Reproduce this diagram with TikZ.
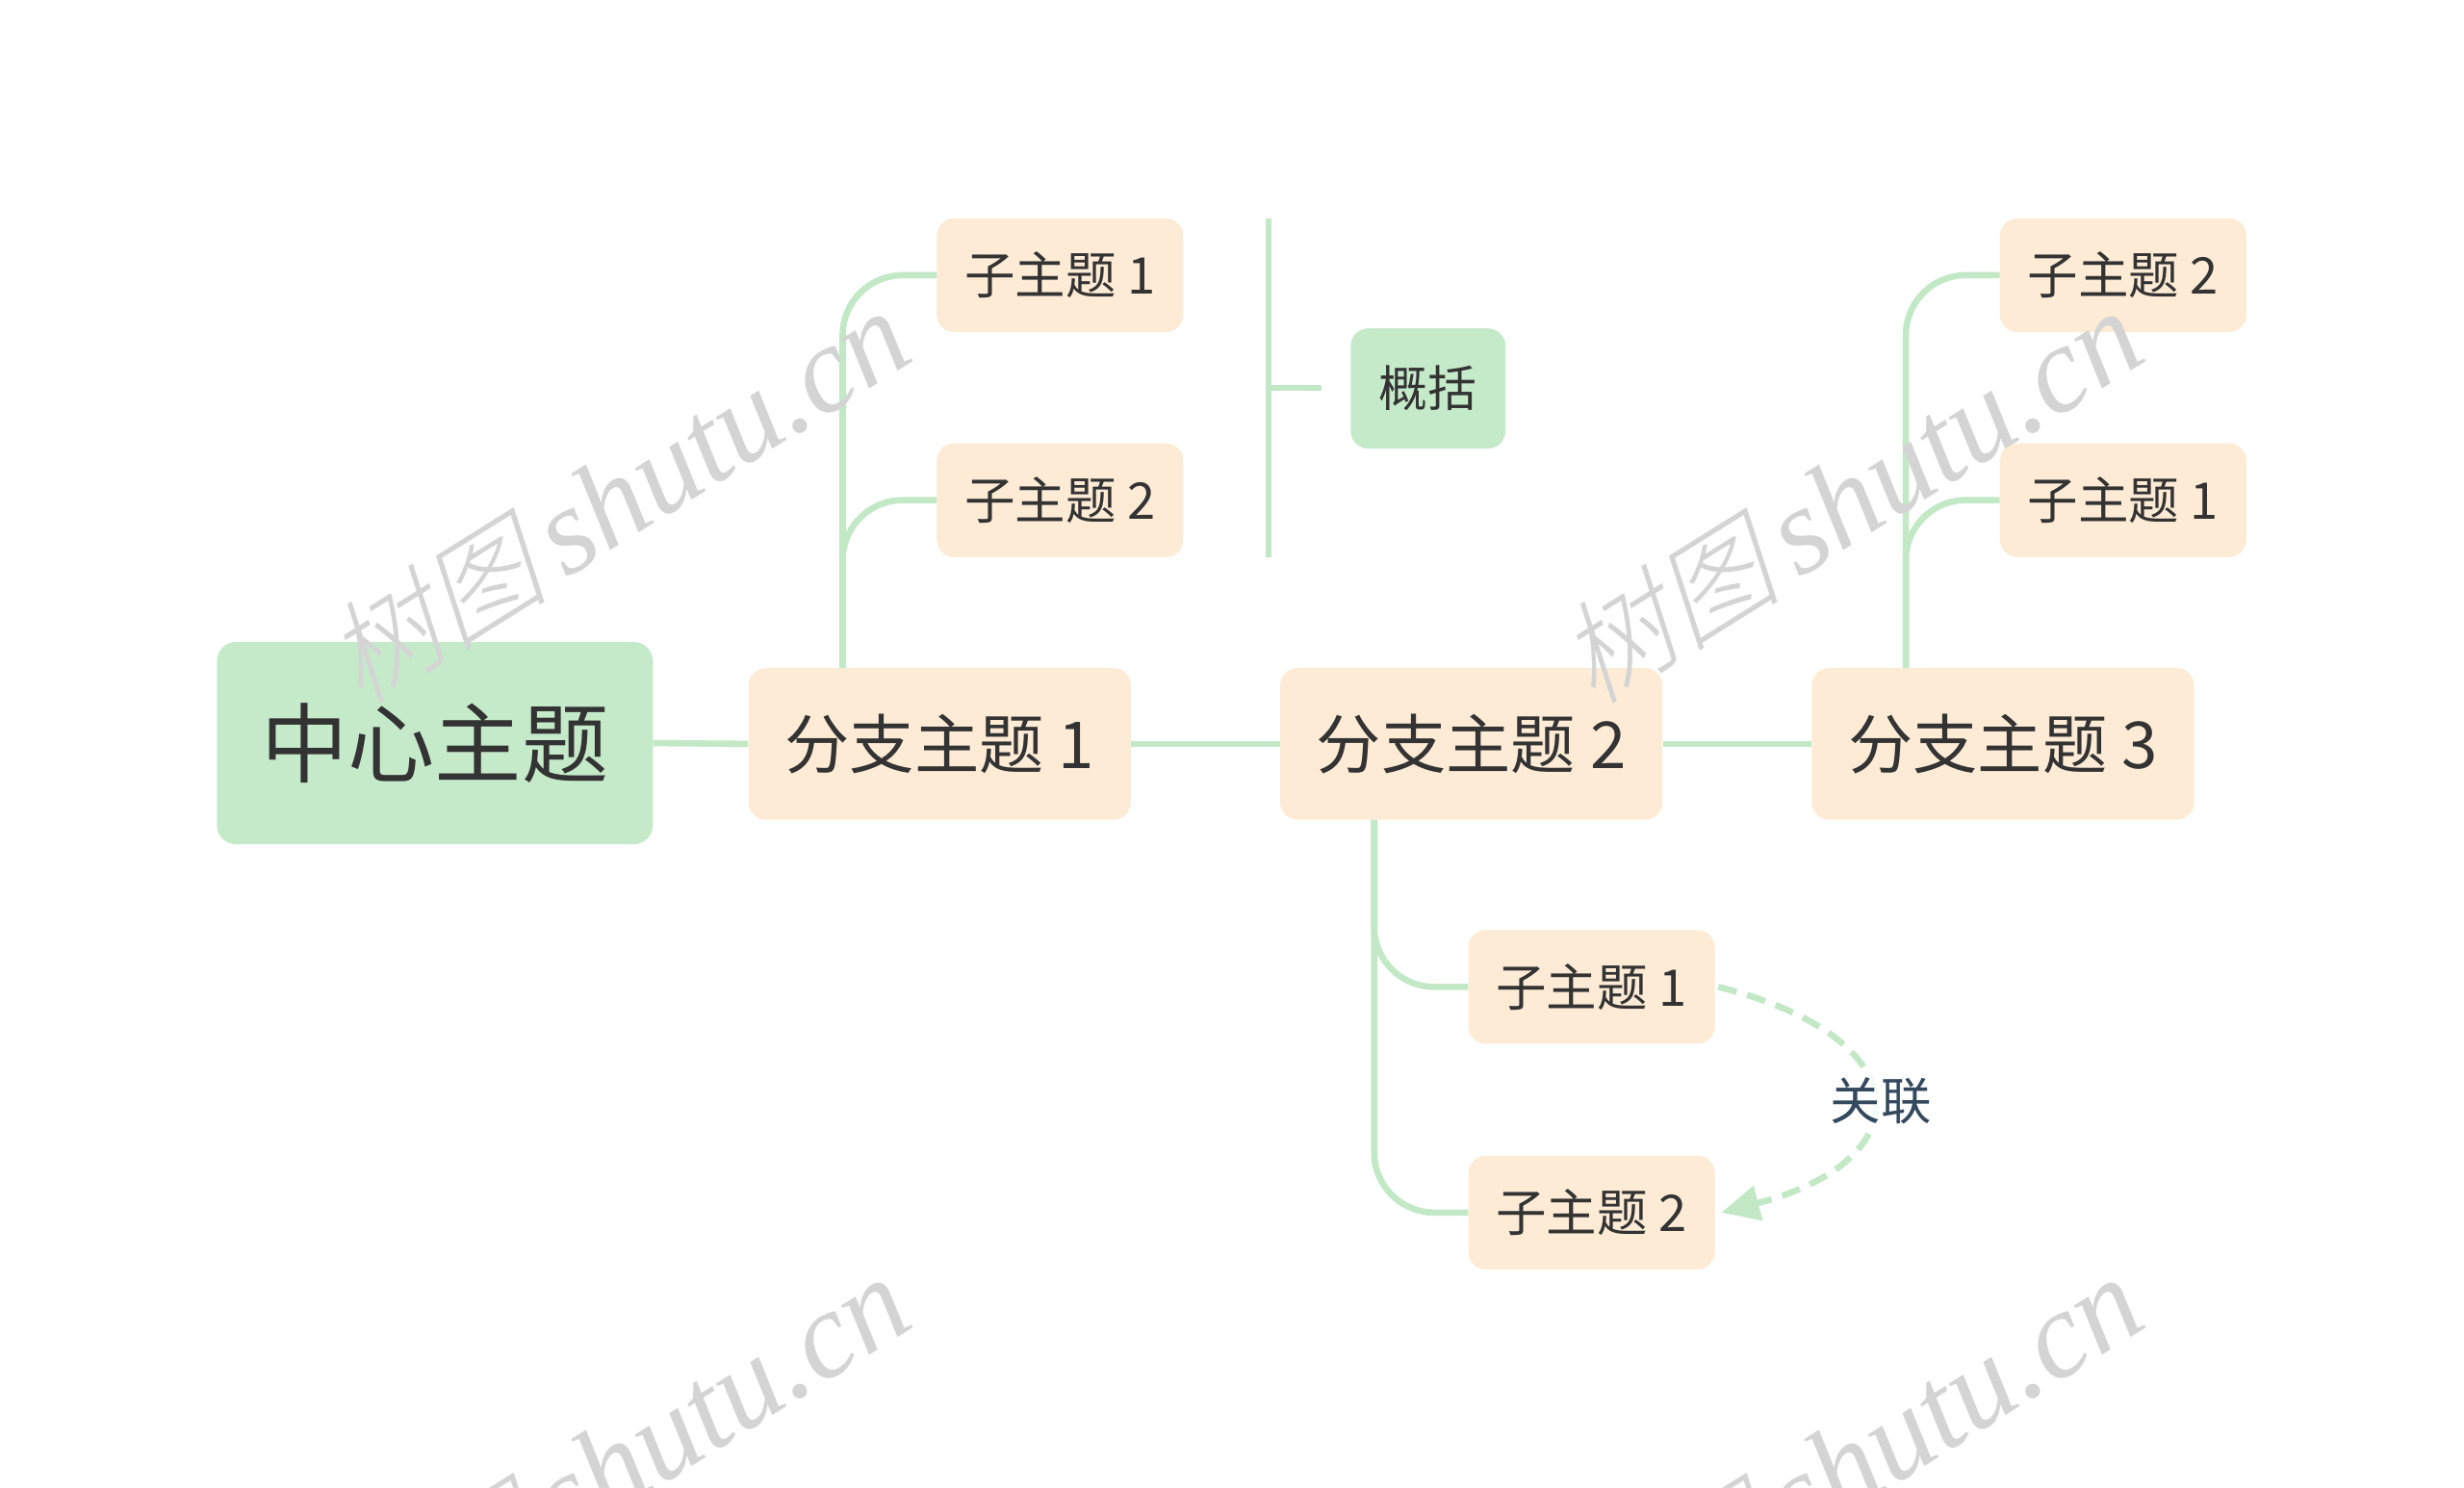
\documentclass[tikz,border=0pt]{standalone}
\usepackage{fontspec}
\newfontfamily\cjk{Noto Sans CJK SC}
\newfontfamily\wmcjk[FakeSlant=0.25]{Noto Sans CJK SC Light}
\newfontfamily\wmlat{Liberation Serif}
\usetikzlibrary{arrows.meta,calc}
\definecolor{cgreen}{HTML}{C5EAC9}
\definecolor{cpeach}{HTML}{FDEBD5}
\definecolor{cline}{HTML}{C2E8C6}
\definecolor{ctext}{HTML}{333333}
\definecolor{clabel}{HTML}{34495E}
\definecolor{cwm}{HTML}{D4D4D4}
\tikzset{
  centralbox/.style={fill=cgreen, rounded corners=12pt, minimum width=276pt, minimum height=128pt, inner sep=0pt, text=ctext, font=\cjk\fontsize{55}{60}\selectfont},
  branchbox/.style={fill=cpeach, rounded corners=11pt, minimum width=242pt, minimum height=96pt, inner sep=0pt, text=ctext, font=\cjk\fontsize{41}{46}\selectfont},
  subbox/.style={fill=cpeach, rounded corners=11pt, minimum width=156pt, minimum height=72pt, inner sep=0pt, text=ctext, font=\cjk\fontsize{32}{36}\selectfont},
  sumbox/.style={fill=cgreen, rounded corners=11pt, minimum width=98pt, minimum height=76pt, inner sep=0pt, text=ctext, font=\cjk\fontsize{31}{36}\selectfont},
  conn/.style={draw=cline, line width=4pt},
  relline/.style={draw=cline, line width=4pt, dash pattern=on 12pt off 7pt},
  rellabel/.style={fill=white, fill opacity=0.85, text opacity=1, text=clabel, inner sep=4pt, font=\cjk\fontsize{32}{36}\selectfont},
  watermark/.style={text=cwm, rotate=32, inner sep=0pt}
}
\newcommand{\wmtext}{\wmcjk\fontsize{71}{76}\selectfont 树图\,\wmlat\itshape\fontsize{78}{84}\selectfont shutu.cn}
\begin{document}
\begin{tikzpicture}[x=0.9957pt,y=-0.9957pt]
\useasboundingbox (0,0) rectangle (1566.7,946.1);
\clip (0,0) rectangle (1566.7,946.1);
\fill[white] (0,0) rectangle (1566.7,946.1);

% nodes
\node[centralbox] (c) at (276.5,472.5) {中心主题};
\node[branchbox] (b1) at (597.5,473) {分支主题 1};
\node[branchbox] (b2) at (935.5,473) {分支主题 2};
\node[branchbox] (b3) at (1273.5,473) {分支主题 3};
\node[subbox] (s11) at (674,175) {子主题 1};
\node[subbox] (s12) at (674,318) {子主题 2};
\node[sumbox] (sum) at (908,247) {概括};
\node[subbox] (s31) at (1350,175) {子主题 2};
\node[subbox] (s32) at (1350,318) {子主题 1};
\node[subbox] (s21) at (1012,627.5) {子主题 1};
\node[subbox] (s22) at (1012,771) {子主题 2};

% main connectors
\draw[conn] (c.east) -- (b1.west);
\draw[conn] (b1.east) -- (b2.west);
\draw[conn] (b2.east) -- (b3.west);

% branch 1 children
\draw[conn, rounded corners=38pt] ($(b1.north west)+(60,0)$) |- (s11.west);
\draw[conn, rounded corners=38pt] ($(b1.north west)+(60,0)$) |- (s12.west);
% branch 3 children
\draw[conn, rounded corners=38pt] ($(b3.north west)+(60,0)$) |- (s31.west);
\draw[conn, rounded corners=38pt] ($(b3.north west)+(60,0)$) |- (s32.west);
% branch 2 children
\draw[conn, rounded corners=38pt] ($(b2.south west)+(60,0)$) |- (s21.west);
\draw[conn, rounded corners=38pt] ($(b2.south west)+(60,0)$) |- (s22.west);

% summary bracket
\coordinate (brt) at ($(s11.north east)+(54,0)$);
\coordinate (brb) at ($(s12.south east)+(54,0)$);
\coordinate (brm) at ($(brt)!0.5!(brb)$);
\coordinate (brr) at ($(brm)+(34,0)$);
\draw[conn] (brt) -- (brb);
\draw[conn] (brm) -- (brr);

% relation
\draw[relline, -{Triangle[length=24pt,width=22pt,fill=cline]}]
  ($(s21.east)+(2,0)$) .. controls (1222,660) and (1222,738) .. ($(s22.east)+(4,0)$);
\node[rellabel] (rel) at (1196,700) {关联};

% watermarks
\node[watermark] (wm1) at (392,316) {\wmtext};
\node[watermark] (wm2) at (1176,316) {\wmtext};
\node[watermark] (wm3) at (392,930) {\wmtext};
\node[watermark] (wm4) at (1176,930) {\wmtext};
\end{tikzpicture}
\end{document}
